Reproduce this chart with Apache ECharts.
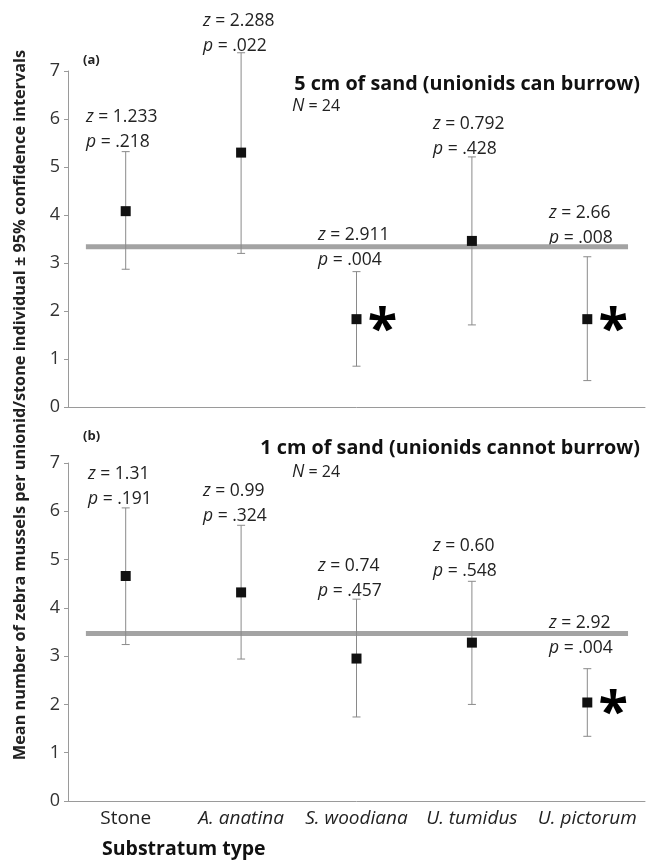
<!DOCTYPE html>
<html>
<head>
<meta charset="utf-8">
<script src="https://cdn.jsdelivr.net/npm/echarts@6/dist/echarts.min.js"></script>
<style>
  html, body { margin: 0; padding: 0; background: #fff; }
  #main { width: 652px; height: 864px; }
</style>
</head>
<body>
<div id="main"></div>
<script>
  var myChart = echarts.init(document.getElementById('main'));

  // substratum categories
  var categories = ['Stone', 'A. anatina', 'S. woodiana', 'U. tumidus', 'U. pictorum'];

  // (a) 5 cm of sand
  var meanA = [4.08, 5.30, 1.83, 3.46, 1.83];
  var lowA  = [2.87, 3.20, 0.85, 1.71, 0.55];
  var highA = [5.32, 7.38, 2.82, 5.21, 3.13];
  var refA  = 3.34;
  var zA = ['1.233', '2.288', '2.911', '0.792', '2.66'];
  var pA = ['.218', '.022', '.004', '.428', '.008'];
  var sigA = [0, 0, 1, 0, 1];

  // (b) 1 cm of sand
  var meanB = [4.66, 4.32, 2.95, 3.28, 2.04];
  var lowB  = [3.24, 2.94, 1.74, 2.00, 1.34];
  var highB = [6.07, 5.71, 4.18, 4.55, 2.74];
  var refB  = 3.47;
  var zB = ['1.31', '0.99', '0.74', '0.60', '2.92'];
  var pB = ['.191', '.324', '.457', '.548', '.004'];
  var sigB = [0, 0, 0, 0, 1];

  var yTicks = [0, 1, 2, 3, 4, 5, 6, 7];

  var FONT = '"Open Sans", "Noto Sans", sans-serif';

  function errRender(params, api) {
    var x = api.value(0);
    var lo = api.coord([x, api.value(1)]);
    var hi = api.coord([x, api.value(2)]);
    var cap = 4;
    var st = { stroke: '#8a8a8a', lineWidth: 1 };
    return {
      type: 'group',
      children: [
        { type: 'line', shape: { x1: lo[0], y1: lo[1], x2: hi[0], y2: hi[1] }, style: st },
        { type: 'line', shape: { x1: lo[0] - cap, y1: lo[1], x2: lo[0] + cap, y2: lo[1] }, style: st },
        { type: 'line', shape: { x1: hi[0] - cap, y1: hi[1], x2: hi[0] + cap, y2: hi[1] }, style: st }
      ]
    };
  }

  function errData(lo, hi) {
    return lo.map(function (v, i) { return [i, v, hi[i]]; });
  }

  function starData(mean, sig) {
    var out = [];
    mean.forEach(function (v, i) { if (sig[i]) out.push([i, v]); });
    return out;
  }

  function panelSeries(idx, mean, lo, hi, ref, sig) {
    return [
      {
        type: 'line', xAxisIndex: idx * 2 + 1, yAxisIndex: idx,
        data: [[-0.345, ref], [4.353, ref]],
        symbol: 'none', lineStyle: { color: '#a3a3a3', width: 5 }, silent: true, z: 1
      },
      {
        type: 'custom', xAxisIndex: idx * 2, yAxisIndex: idx,
        renderItem: errRender, data: errData(lo, hi), z: 2
      },
      {
        type: 'scatter', xAxisIndex: idx * 2, yAxisIndex: idx,
        data: mean.map(function (v, i) { return [i, v]; }),
        symbol: 'rect', symbolSize: 10, itemStyle: { color: '#111', opacity: 1 }, z: 3
      },
      {
        type: 'scatter', xAxisIndex: idx * 2, yAxisIndex: idx,
        data: starData(mean, sig), symbolSize: 0, itemStyle: { opacity: 1 },
        label: {
          show: true, formatter: '*', position: 'inside', offset: [26, 12],
          fontSize: 54, fontWeight: 'bold', color: '#000', opacity: 1, fontFamily: FONT
        }, z: 4
      }
    ];
  }

  function yAxis(idx) {
    return {
      type: 'value', gridIndex: idx, min: yTicks[0], max: yTicks[yTicks.length - 1], interval: 1,
      splitLine: { show: false },
      axisLine: { show: true, onZero: false, lineStyle: { color: '#9a9a9a' } },
      axisTick: { show: true, length: 4, lineStyle: { color: '#9a9a9a' } },
      axisLabel: { fontSize: 18, color: '#333', margin: 8, fontFamily: FONT }
    };
  }

  function catAxis(idx, showLabels) {
    return {
      type: 'category', gridIndex: idx, data: categories, boundaryGap: true,
      axisLine: { show: true, onZero: false, lineStyle: { color: '#9a9a9a' } },
      axisTick: { show: false },
      axisLabel: {
        show: showLabels, interval: 0, fontSize: 19, color: '#222', margin: 8, fontFamily: FONT,
        formatter: function (v) { return v === 'Stone' ? v : '{i|' + v + '}'; },
        rich: { i: { fontStyle: 'italic', fontSize: 19, color: '#222', fontFamily: FONT } }
      }
    };
  }

  function helperAxis(idx) {
    return { type: 'value', gridIndex: idx, min: -0.5, max: 4.5, show: false };
  }

  // annotation positions (left x, centre y of z-line)
  var labelPosA = [[86, 116], [203, 20], [318, 234], [433, 123], [549, 212]];
  var labelPosB = [[88, 473], [203, 490], [318, 565], [433, 545], [549, 622]];

  var statStyle = { fontSize: 17.5, fill: '#222', fontFamily: FONT };
  var rich = { i: { fontStyle: 'italic', fontSize: 17.5, fontFamily: FONT, fill: '#222', color: '#222' } };

  function statTexts(zs, ps, pos) {
    var out = [];
    zs.forEach(function (z, i) {
      out.push({ type: 'text', left: pos[i][0], top: pos[i][1] - 8,
        style: Object.assign({ text: '{i|z} = ' + z, rich: rich }, statStyle) });
      out.push({ type: 'text', left: pos[i][0], top: pos[i][1] + 17,
        style: Object.assign({ text: '{i|p} = ' + ps[i], rich: rich }, statStyle) });
    });
    return out;
  }

  var graphics = [
    { type: 'text', x: 20, y: 405, rotation: Math.PI / 2,
      style: { text: 'Mean number of zebra mussels per unionid/stone individual \u00b1 95% confidence intervals',
        fontSize: 16.3, fontWeight: 'bold', fill: '#222', fontFamily: FONT, align: 'center', verticalAlign: 'middle' } },
    { type: 'text', left: 83, top: 54, style: { text: '(a)', fontSize: 13, fontWeight: 'bold', fill: '#222', fontFamily: FONT } },
    { type: 'text', left: 83, top: 430, style: { text: '(b)', fontSize: 13, fontWeight: 'bold', fill: '#222', fontFamily: FONT } },
    { type: 'text', right: 12, top: 74, style: { text: '5 cm of sand (unionids can burrow)', fontSize: 19.8, fontWeight: 'bold', fill: '#111', fontFamily: FONT } },
    { type: 'text', right: 12, top: 438, style: { text: '1 cm of sand (unionids cannot burrow)', fontSize: 19.8, fontWeight: 'bold', fill: '#111', fontFamily: FONT } },
    { type: 'text', left: 292, top: 97, style: Object.assign({ text: '{i|N} = 24', rich: rich }, statStyle, { fontSize: 16 }) },
    { type: 'text', left: 292, top: 463, style: Object.assign({ text: '{i|N} = 24', rich: rich }, statStyle, { fontSize: 16 }) },
    { type: 'text', left: 102, top: 839, style: { text: 'Substratum type', fontSize: 19.5, fontWeight: 'bold', fill: '#111', fontFamily: FONT } }
  ].concat(statTexts(zA, pA, labelPosA), statTexts(zB, pB, labelPosB));

  var option = {
    animation: false,
    backgroundColor: '#fff',
    textStyle: { fontFamily: FONT },
    grid: [
      { left: 68, right: 7, top: 71, height: 336 },
      { left: 68, right: 7, top: 463, height: 338 }
    ],
    xAxis: [catAxis(0, false), helperAxis(0), catAxis(1, true), helperAxis(1)],
    yAxis: [yAxis(0), yAxis(1)],
    series: panelSeries(0, meanA, lowA, highA, refA, sigA)
      .concat(panelSeries(1, meanB, lowB, highB, refB, sigB)),
    graphic: graphics
  };

  myChart.setOption(option);
</script>
</body>
</html>
